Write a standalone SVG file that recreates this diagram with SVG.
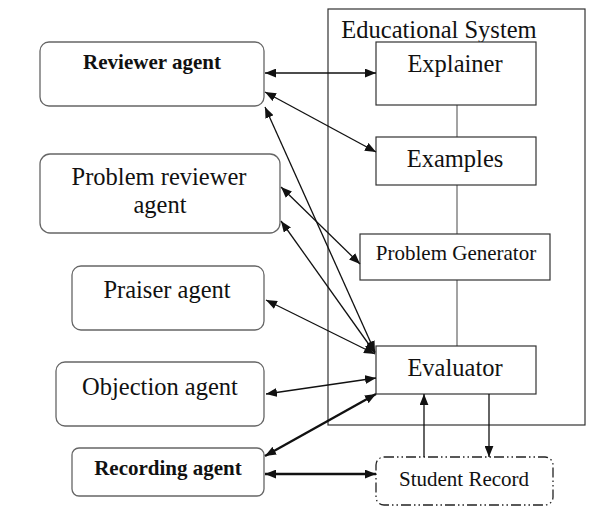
<svg xmlns="http://www.w3.org/2000/svg" width="591" height="510" viewBox="0 0 591 510">
  <style>
    .agent { fill: #fff; stroke: #666; stroke-width: 1.3; }
    .module { fill: #fff; stroke: #333; stroke-width: 1.2; }
    .system { fill: none; stroke: #333; stroke-width: 1.2; }
    .record { fill: #fff; stroke: #222; stroke-width: 1.3; stroke-dasharray: 10 3 1.5 3 1.5 3; }
    .link { stroke: #666; stroke-width: 1.2; fill: none; }
    .arrow { stroke: #111; stroke-width: 1.3; fill: none; marker-start: url(#head); marker-end: url(#head); }
    .arrow.bold { stroke-width: 2.4; }
    .arrow.one { marker-start: none; }
    text { font-family: "Liberation Serif", "Times New Roman", serif; fill: #111; text-anchor: middle; }
    .big { font-size: 24.5px; }
    .mid { font-size: 21px; }
    .strong { font-size: 21px; font-weight: bold; }
  </style>
  <defs>
    <marker id="head" viewBox="0 0 10 8" refX="10" refY="4" markerWidth="11" markerHeight="9" markerUnits="userSpaceOnUse" orient="auto-start-reverse">
      <path d="M0,0 L10,4 L0,8 z" fill="#111"/>
    </marker>
  </defs>

  <rect width="591" height="510" fill="#fff"/>

  <!-- educational system frame -->
  <g id="educational-system">
    <rect class="system" x="328" y="9" width="257" height="416"/>
    <text class="big" x="439" y="38">Educational System</text>
  </g>

  <!-- links between the system modules -->
  <g id="module-links">
    <line class="link" x1="457" y1="105" x2="457" y2="137"/>
    <line class="link" x1="457" y1="185" x2="457" y2="234"/>
    <line class="link" x1="457" y1="280" x2="457" y2="346"/>
  </g>

  <g id="explainer">
    <rect class="module" x="376" y="42" width="160" height="63"/>
    <text class="big" x="455" y="72">Explainer</text>
  </g>
  <g id="examples">
    <rect class="module" x="376" y="137" width="160" height="48"/>
    <text class="big" x="455" y="167">Examples</text>
  </g>
  <g id="problem-generator">
    <rect class="module" x="360" y="234" width="190" height="46"/>
    <text class="mid" x="456" y="260">Problem Generator</text>
  </g>
  <g id="evaluator">
    <rect class="module" x="376" y="346" width="160" height="48"/>
    <text class="big" x="455" y="376">Evaluator</text>
  </g>
  <g id="student-record">
    <rect class="record" x="376" y="457" width="177" height="48" rx="8"/>
    <text class="mid" x="464" y="486">Student Record</text>
  </g>

  <!-- agents -->
  <g id="reviewer-agent">
    <rect class="agent" x="40" y="42" width="224" height="64" rx="9"/>
    <text class="strong" x="152" y="69">Reviewer agent</text>
  </g>
  <g id="problem-reviewer-agent">
    <rect class="agent" x="40" y="154" width="240" height="79" rx="10"/>
    <text class="big" x="159" y="185">Problem reviewer</text>
    <text class="big" x="160" y="213">agent</text>
  </g>
  <g id="praiser-agent">
    <rect class="agent" x="72" y="266" width="192" height="64" rx="9"/>
    <text class="big" x="167" y="298">Praiser agent</text>
  </g>
  <g id="objection-agent">
    <rect class="agent" x="56" y="362" width="208" height="64" rx="9"/>
    <text class="big" x="160" y="395">Objection agent</text>
  </g>
  <g id="recording-agent">
    <rect class="agent" x="72" y="448" width="192" height="48" rx="7"/>
    <text class="strong" x="168" y="475">Recording agent</text>
  </g>

  <!-- connectors -->
  <g id="connectors">
    <line class="arrow" x1="265" y1="73" x2="376" y2="73"/>
    <line class="arrow" x1="265" y1="92" x2="376" y2="152"/>
    <line class="arrow" x1="265" y1="107" x2="375" y2="352"/>
    <line class="arrow" x1="281" y1="187" x2="360" y2="264"/>
    <line class="arrow" x1="281" y1="221" x2="375" y2="353"/>
    <line class="arrow" x1="266" y1="300" x2="375" y2="354"/>
    <line class="arrow" x1="266" y1="394" x2="376" y2="378"/>
    <line class="arrow bold" x1="265" y1="456" x2="376" y2="394"/>
    <line class="arrow bold" x1="265" y1="474" x2="376" y2="474"/>
    <line class="arrow one" x1="424" y1="457" x2="424" y2="394"/>
    <line class="arrow one" x1="489" y1="394" x2="489" y2="457"/>
  </g>
</svg>
